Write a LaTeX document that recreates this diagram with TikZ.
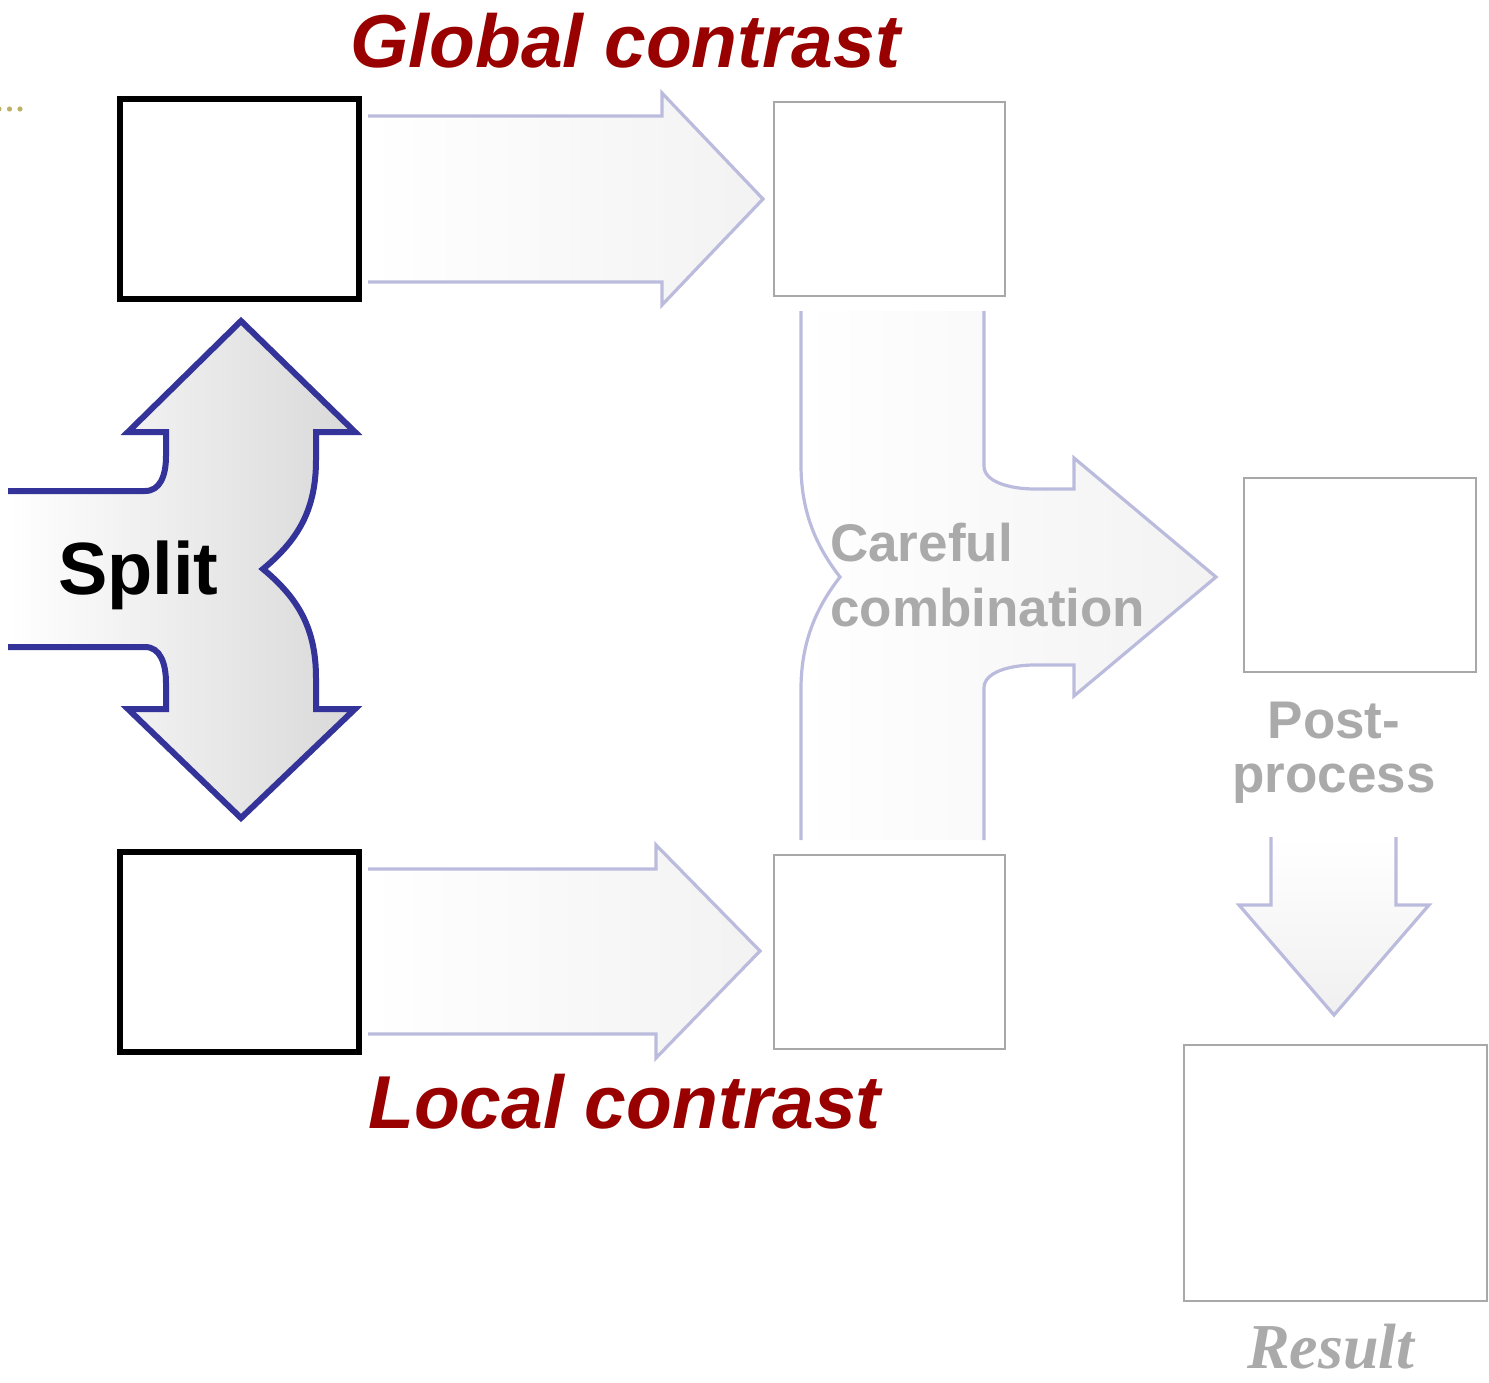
\documentclass[tikz,border=0pt]{standalone}
\usepackage{fontspec}
\setmainfont{Liberation Sans}
\newfontfamily\resultfont{Liberation Serif}
\definecolor{darkred}{RGB}{153,0,0}
\definecolor{splitblue}{RGB}{51,51,153}
\definecolor{lav}{RGB}{187,187,221}
\definecolor{boxgray}{RGB}{168,168,168}
\definecolor{txtgray}{RGB}{170,170,170}
\definecolor{dotcol}{RGB}{190,176,100}
\begin{document}
\begin{tikzpicture}[x=1pt,y=-1pt,
  blackbox/.style={draw=black,line width=6pt,inner sep=0pt,outer sep=0pt,anchor=north west,minimum width=239pt,minimum height=200pt},
  graybox/.style={draw=boxgray,line width=2.5pt,inner sep=0pt,outer sep=0pt,anchor=north west},
  splitline/.style={draw=splitblue,line width=6pt,line join=miter},
  lavline/.style={draw=lav,line width=3.2pt,line join=miter},
  bigred/.style={text=darkred,font=\fontsize{75}{90}\selectfont\bfseries\itshape,anchor=base west,inner sep=0pt},
  graytxt/.style={text=txtgray,font=\fontsize{53}{64}\selectfont\bfseries,inner sep=0pt}
]
\useasboundingbox (0,0) rectangle (1489,1383);

% dots
\fill[dotcol] (-1,109) circle (2.6) (9.5,109) circle (2.6) (20,109) circle (2.6);

% boxes
\node[blackbox] (gbox) at (120,99) {};
\node[blackbox] (lbox) at (120,852) {};
\node[graybox,minimum width=231pt,minimum height=194pt] (gres) at (774,102) {};
\node[graybox,minimum width=231pt,minimum height=194pt] (lres) at (774,855) {};
\node[graybox,minimum width=232pt,minimum height=194pt] (comb) at (1244,478) {};
\node[graybox,minimum width=303pt,minimum height=256pt] (res) at (1184,1045) {};

% top arrow
\shade[left color=white,right color=black!5] (368,116) -- (662,116) -- (662,93) -- (763,199) -- (662,305) -- (662,282) -- (368,282) -- cycle;
\draw[lavline] (368,116) -- (662,116) -- (662,93) -- (763,199) -- (662,305) -- (662,282) -- (368,282);

% bottom arrow
\shade[left color=white,right color=black!5] (368,869) -- (656,869) -- (656,845) -- (760,951) -- (656,1058) -- (656,1034) -- (368,1034) -- cycle;
\draw[lavline] (368,869) -- (656,869) -- (656,845) -- (760,951) -- (656,1058) -- (656,1034) -- (368,1034);

% split arrow
\shade[left color=white,right color=black!15] (8,491) -- (145,491) .. controls (160,491) and (166,476) .. (166,456) -- (166,432) -- (128,432) -- (241,321) -- (355,432) -- (316,432) -- (316,460) .. controls (316,510) and (298,540) .. (263,569) .. controls (298,598) and (316,628) .. (316,678) -- (316,709) -- (355,709) -- (241,818) -- (128,709) -- (166,709) -- (166,683) .. controls (166,663) and (160,647) .. (145,647) -- (8,647) -- cycle;
\draw[splitline] (8,491) -- (145,491) .. controls (160,491) and (166,476) .. (166,456) -- (166,432) -- (128,432) -- (241,321) -- (355,432) -- (316,432) -- (316,460) .. controls (316,510) and (298,540) .. (263,569) .. controls (298,598) and (316,628) .. (316,678) -- (316,709) -- (355,709) -- (241,818) -- (128,709) -- (166,709) -- (166,683) .. controls (166,663) and (160,647) .. (145,647) -- (8,647);

% combination arrow
\shade[left color=white,right color=black!5] (801,311) -- (801,465) .. controls (801,510) and (815,545) .. (840,577) .. controls (815,609) and (801,644) .. (801,689) -- (801,840) -- (984,840) -- (984,688) .. controls (984,672) and (1010,665) .. (1035,665) -- (1074,665) -- (1074,696) -- (1216,577) -- (1074,458) -- (1074,489) -- (1035,489) .. controls (1010,489) and (984,482) .. (984,466) -- (984,311) -- cycle;
\draw[lavline] (801,311) -- (801,465) .. controls (801,510) and (815,545) .. (840,577) .. controls (815,609) and (801,644) .. (801,689) -- (801,840);
\draw[lavline] (984,840) -- (984,688) .. controls (984,672) and (1010,665) .. (1035,665) -- (1074,665) -- (1074,696) -- (1216,577) -- (1074,458) -- (1074,489) -- (1035,489) .. controls (1010,489) and (984,482) .. (984,466) -- (984,311);

% post-process arrow
\shade[top color=white,bottom color=black!6] (1271,837) -- (1271,905) -- (1239,905) -- (1334,1015) -- (1429,905) -- (1396,905) -- (1396,837) -- cycle;
\draw[lavline] (1271,837) -- (1271,905) -- (1239,905) -- (1334,1015) -- (1429,905) -- (1396,905) -- (1396,837);

% texts
\node[bigred] (tglobal) at (350,68) {Global contrast};
\node[bigred] (tlocal) at (368,1128) {Local contrast};
\node[anchor=base west,inner sep=0pt,font=\fontsize{74}{88}\selectfont\bfseries] (tsplit) at (58,594) {Split};
\node[graytxt,anchor=base west] (tcareful) at (830,561) {Careful};
\node[graytxt,anchor=base west] (tcomb) at (830,626) {combination};
\node[graytxt,anchor=base] (tpost) at (1334,738) {Post-};
\node[graytxt,anchor=base] (tproc) at (1334,792) {process};
\node[anchor=base west,inner sep=0pt,text=txtgray,font=\resultfont\fontsize{64}{76}\selectfont\bfseries\itshape] (tres) at (1247,1368) {Result};
\end{tikzpicture}
\end{document}
